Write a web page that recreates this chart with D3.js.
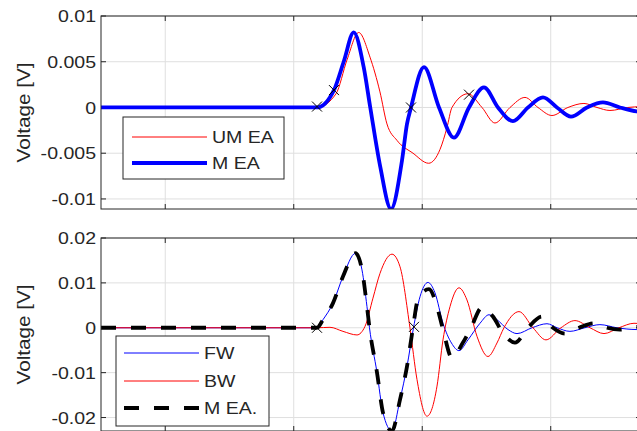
<!DOCTYPE html>
<html lang="en">
<head>
<meta charset="UTF-8">
<title>Voltage signals</title>
<script src="https://d3js.org/d3.v7.min.js"></script>
<style>
  body { margin: 0; padding: 0; background: #fff; }
  svg text { font-family: "Liberation Sans", Arial, sans-serif; fill: #262626; }
</style>
</head>
<body>
<div id="chart"></div>
<script>
// time axis (arbitrary units, tick labels are cut off in the figure)
const xTicks = [0, 20, 40, 60];
const topTicks = [-0.01, -0.005, 0, 0.005, 0.01];
const botTicks = [-0.02, -0.01, 0, 0.01, 0.02];

// top panel: unmatched / matched EA
const umEA = [[-10,0],[23.62,0],[26.58,0.0015],[28.29,0.0052],[30.11,0.0082],[31.87,0.0055],[33.42,0.0017],
  [34.51,-0.0018],[36.07,-0.0036],[38.56,-0.0050],[41.00,-0.0061],[42.76,-0.0046],[43.85,-0.0022],[44.63,0],
  [47.12,0.0015],[49.30,0],[51.32,-0.0017],[53.66,0],[55.99,0.0011],[58.01,0],[60.19,-0.00088],[62.68,0],
  [65.17,0.00044],[67.20,0],[69.22,-0.00033],[72.0,0],[74.05,0.0001]];
const mEA = [[-10,0],[23.62,0],[26.26,0.0019],[27.82,0.0051],[29.33,0.0082],[30.89,0.0044],[31.91,0],
  [33.47,-0.0065],[35.14,-0.0111],[36.85,-0.0058],[37.63,-0.0018],[38.25,0],[40.27,0.0044],[42.61,0],
  [44.94,-0.0033],[47.28,0],[49.61,0.0022],[51.79,0],[54.12,-0.0015],[56.46,0],[58.79,0.0011],[60.97,0],
  [63.15,-0.0010],[65.64,0],[68.13,0.00055],[70.78,0],[73.42,-0.00044],[74.05,-0.0005]];
const topMarks = [[23.62,0.0001],[26.26,0.0019],[38.25,0],[47.28,0.0014]];

// bottom panel: forward / backward wave and matched EA
const fw = [[-10,0],[23.62,0],[24.55,0.0018],[26.11,0.0055],[27.66,0.0114],[29.61,0.0166],[30.62,0.0129],
  [31.40,0.0047],[31.79,0],[32.96,-0.0100],[33.89,-0.0189],[35.29,-0.0230],[36.54,-0.0160],[37.63,-0.0086],
  [38.64,0],[39.65,0.0069],[40.89,0.0101],[41.98,0.0078],[43.23,0.0010],[44.55,-0.0034],[45.72,-0.0051],
  [47.12,-0.0027],[48.99,0.0010],[50.39,0.0029],[51.63,0.0018],[53.35,-0.0004],[54.75,-0.0013],[57.08,0],
  [59.42,0.0009],[61.0,0],[62.99,-0.0008],[65.3,0],[67.66,0.0007],[70.3,0],[73.42,-0.0004],[74.05,-0.0004]];
const bw = [[-10,0],[23.62,0],[25.64,0.0001],[27.66,-0.0008],[29.84,-0.0016],[31.09,0.0003],[32.33,0.0066],
  [33.42,0.0121],[35.29,0.0164],[36.54,0.0136],[38.09,0],[39.18,-0.0115],[40.74,-0.0197],[42.30,-0.0130],
  [43.23,-0.0027],[44.32,0.0047],[45.72,0.0089],[46.96,0.0062],[48.52,-0.0019],[50.23,-0.0064],
  [51.63,-0.0034],[52.72,0],[55.06,0.0036],[57.24,0],[59.26,-0.0027],[61.59,0],[63.77,0.0016],[66.11,0],
  [68.29,-0.0013],[70.62,0],[72.96,0.0010],[74.05,0.0009]];
const mEA2 = [[-10,0],[23.62,0],[24.55,0.0018],[26.11,0.0055],[27.66,0.0114],[29.61,0.0166],[30.62,0.0129],
  [31.40,0.0047],[31.79,0],[32.96,-0.0100],[33.89,-0.0189],[35.29,-0.0230],[36.54,-0.0160],[37.63,-0.0086],
  [38.56,0],[39.34,0.0064],[41.05,0.0086],[42.30,0.0047],[43.23,-0.0004],[44.63,-0.0067],[46.34,-0.0033],
  [47.59,0],[49.30,0.0045],[51.01,0.0025],[52.41,-0.0008],[54.43,-0.0033],[56.46,0],[58.64,0.0025],
  [60.35,0],[62.22,-0.0013],[64.40,0],[66.73,0.0010],[68.75,0],[70.78,-0.0004],[73.42,0.0002],[74.05,0.0002]];
const botMarks = [[23.62,0],[38.72,0.0002]];

const topLegend = ["UM EA", "M EA"];
const botLegend = ["FW", "BW", "M EA."];

const W = 637, H = 431;
const axisColor = "#262626";
const gridColor = "#dfdfdf";

const svg = d3.select("#chart").append("svg")
  .attr("width", W).attr("height", H);

const x = d3.scaleLinear().domain([-10, 74.05]).range([101, 641]);

function drawPanel(id, top, bottom, yDomain, yTicks) {
  const y = d3.scaleLinear().domain(yDomain).range([bottom, top]);
  const g = svg.append("g");
  const x0 = x.range()[0], x1 = x.range()[1];

  g.append("clipPath").attr("id", "clip-" + id)
    .append("rect").attr("x", x0).attr("y", top).attr("width", x1 - x0).attr("height", bottom - top);

  // grid
  g.selectAll(".gx").data(xTicks).join("line")
    .attr("x1", d => x(d)).attr("x2", d => x(d)).attr("y1", top).attr("y2", bottom)
    .attr("stroke", gridColor).attr("stroke-width", 1);
  g.selectAll(".gy").data(yTicks).join("line")
    .attr("x1", x0).attr("x2", x1).attr("y1", d => y(d)).attr("y2", d => y(d))
    .attr("stroke", gridColor).attr("stroke-width", 1);

  // ticks inward, all four sides
  const tl = 5;
  const ticks = g.append("g").attr("stroke", axisColor).attr("stroke-width", 1);
  xTicks.forEach(d => {
    ticks.append("line").attr("x1", x(d)).attr("x2", x(d)).attr("y1", bottom).attr("y2", bottom - tl);
    ticks.append("line").attr("x1", x(d)).attr("x2", x(d)).attr("y1", top).attr("y2", top + tl);
  });
  yTicks.forEach(d => {
    ticks.append("line").attr("x1", x0).attr("x2", x0 + tl).attr("y1", y(d)).attr("y2", y(d));
    ticks.append("line").attr("x1", x1).attr("x2", x1 - tl).attr("y1", y(d)).attr("y2", y(d));
  });

  // tick labels (text is a bit wider than a plain render, so scale x)
  g.selectAll(".yl").data(yTicks).join("text")
    .attr("transform", d => `translate(${x0 - 5},${y(d)}) scale(1.15,1)`)
    .attr("dy", "0.36em")
    .attr("text-anchor", "end").style("font-size", "17px")
    .text(d => d === 0 ? "0" : String(+d.toFixed(3)));

  g.append("text")
    .attr("transform", `translate(30,${(top + bottom) / 2}) rotate(-90) scale(1.15,1)`)
    .attr("text-anchor", "middle").style("font-size", "18px")
    .text("Voltage [V]");

  const plot = g.append("g").attr("clip-path", `url(#clip-${id})`);
  return { y, plot, g, x0, x1, top, bottom };
}

const line = y => d3.line().x(d => x(d[0])).y(d => y(d[1])).curve(d3.curveMonotoneX);

function marks(p, data) {
  p.plot.selectAll(".mk").data(data).join("path")
    .attr("transform", d => `translate(${x(d[0])},${p.y(d[1])})`)
    .attr("d", "M-5,-5L5,5M-5,5L5,-5")
    .attr("stroke", "#000").attr("stroke-width", 1).attr("fill", "none");
}

function box(p) {
  p.g.append("rect").attr("x", p.x0).attr("y", p.top)
    .attr("width", p.x1 - p.x0).attr("height", p.bottom - p.top)
    .attr("fill", "none").attr("stroke", axisColor).attr("stroke-width", 1);
}

function legend(p, bx, by, bw, bh, items, styles, rowY, lx0, lx1, tx) {
  const lg = p.g.append("g");
  lg.append("rect").attr("x", bx).attr("y", by).attr("width", bw).attr("height", bh)
    .attr("fill", "#fff").attr("stroke", axisColor).attr("stroke-width", 1);
  items.forEach((name, i) => {
    const s = styles[i];
    lg.append("line").attr("x1", lx0).attr("x2", lx1).attr("y1", rowY[i]).attr("y2", rowY[i])
      .attr("stroke", s.color).attr("stroke-width", s.width)
      .attr("stroke-dasharray", s.dash || null);
    lg.append("text")
      .attr("transform", `translate(${tx},${rowY[i]}) scale(1.15,1)`)
      .attr("dy", "0.36em")
      .style("font-size", "17px").text(name);
  });
}

// ---- top panel
const pTop = drawPanel("top", 16, 209, [-0.0111, 0.01], topTicks);
pTop.plot.append("path").datum(umEA).attr("d", line(pTop.y))
  .attr("fill", "none").attr("stroke", "#ff0000").attr("stroke-width", 1);
pTop.plot.append("path").datum(mEA).attr("d", line(pTop.y))
  .attr("fill", "none").attr("stroke", "#0000ff").attr("stroke-width", 3.8);
marks(pTop, topMarks);
box(pTop);
legend(pTop, 123, 117, 161, 62, topLegend,
  [{ color: "#ff0000", width: 1 }, { color: "#0000ff", width: 3.8 }],
  [137, 163], 132, 207, 212);

// ---- bottom panel
const pBot = drawPanel("bot", 238, 431, [-0.023, 0.02], botTicks);
pBot.plot.append("path").datum(fw).attr("d", line(pBot.y))
  .attr("fill", "none").attr("stroke", "#0000ff").attr("stroke-width", 1);
pBot.plot.append("path").datum(bw).attr("d", line(pBot.y))
  .attr("fill", "none").attr("stroke", "#ff0000").attr("stroke-width", 1);
pBot.plot.append("path").datum(mEA2).attr("d", line(pBot.y))
  .attr("fill", "none").attr("stroke", "#000").attr("stroke-width", 3.8)
  .attr("stroke-dasharray", "15,15");
marks(pBot, botMarks);
box(pBot);
legend(pBot, 116, 336, 153, 90, botLegend,
  [{ color: "#0000ff", width: 1 }, { color: "#ff0000", width: 1 }, { color: "#000", width: 3.8, dash: "15,15" }],
  [353, 381, 408], 124, 199, 204);
</script>
</body>
</html>
